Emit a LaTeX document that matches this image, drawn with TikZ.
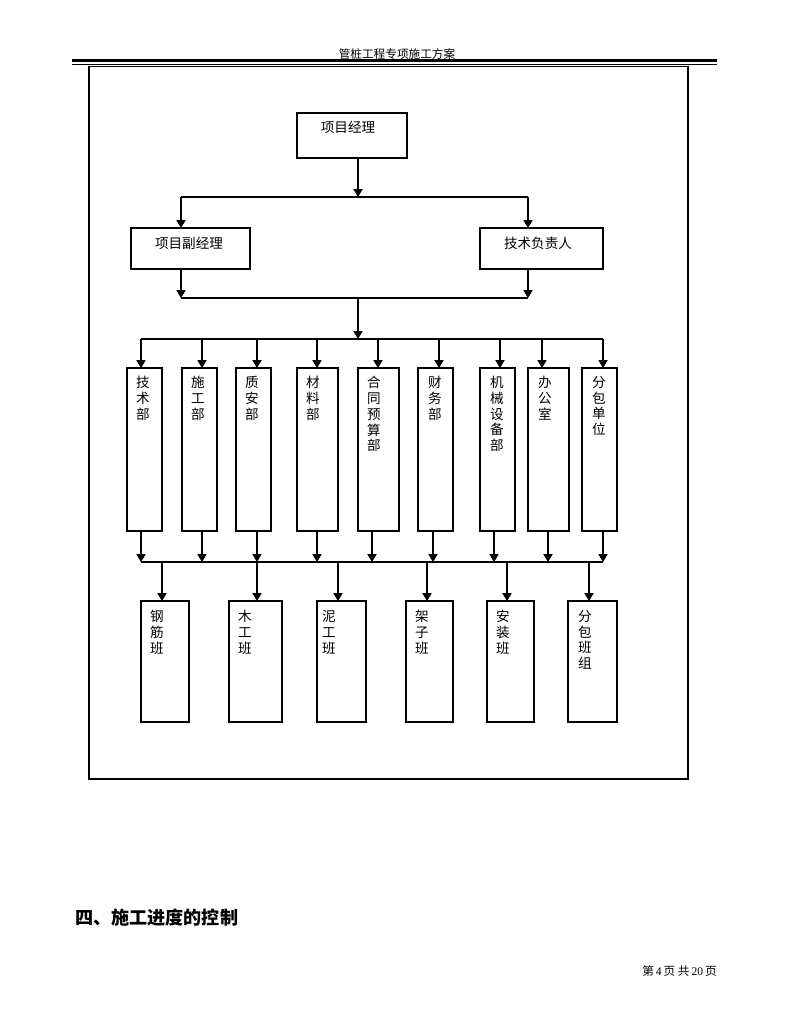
\documentclass[tikz,border=0pt]{standalone}
\usepackage{fontspec}
\newfontfamily\cjk{Noto Sans CJK SC}
\newfontfamily\tms{Liberation Serif}
\usetikzlibrary{arrows.meta}
\newcommand\mkbox[5]{\node[boxst, minimum width={(#4-#2)*0.7734pt}, minimum height={(#5-#3)*0.7734pt}] (#1) at ({(#2+#4)/2},{(#3+#5)/2}) {};}
\begin{document}
\begin{tikzpicture}[x=0.7734pt,y=-0.7734pt,
  boxst/.style={draw, line width=0.8pt, inner sep=0pt, outer sep=0pt},
  lbl/.style={font=\cjk\fontsize{10.5}{12.2}\selectfont, inner sep=0pt, align=center},
  vlbl/.style={lbl, anchor=north},
  conn/.style={line width=0.8pt},
  arr/.style={conn, -{Triangle[length=6pt,width=7pt]}},
]
\useasboundingbox (0,0) rectangle (791,1024);
% header
\node[font=\cjk\fontsize{9}{9}\selectfont, inner sep=0pt] (hdr) at (397,54) {管桩工程专项施工方案};
\draw[line width=1.8pt] (72,60.5) -- (717,60.5);
\draw[line width=1.2pt] (72,64.5) -- (717,64.5);
% frame
\draw[line width=1.5pt] (89,66.5) rectangle (688,779);
% top level
\mkbox{pm}{297}{113}{407}{158}
\node[lbl] (pmt) at (348,127) {项目经理};
\mkbox{dpm}{131}{228}{250}{269}
\node[lbl] (dpmt) at (189,243) {项目副经理};
\mkbox{tech}{480}{228}{603}{269}
\node[lbl] (techt) at (538,243) {技术负责人};
\coordinate (pmo) at (358,158);
\coordinate (b1m) at (358,197);
\coordinate (b1l) at (181,197);
\coordinate (b1r) at (528,197);
\draw[conn] (b1l) -- (b1r);
\draw[arr] (pmo) -- (b1m);
\draw[arr] (b1l) -- (b1l |- dpm.north);
\draw[arr] (b1r) -- (b1r |- tech.north);
\coordinate (b2l) at (181,298);
\coordinate (b2r) at (528,298);
\coordinate (b2m) at (358,298);
\draw[conn] (b2l) -- (b2r);
\draw[arr] (b2l |- dpm.south) -- (b2l);
\draw[arr] (b2r |- tech.south) -- (b2r);
\coordinate (b3m) at (358,339);
\draw[arr] (b2m) -- (b3m);
% departments
\coordinate (b3l) at (141,339);
\coordinate (b3r) at (603,339);
\draw[conn] (b3l) -- (b3r);
\coordinate (b4l) at (141,562);
\coordinate (b4r) at (603,562);
\draw[conn] (b4l) -- (b4r);
\foreach \n/\xa/\xb/\ta/\tb/\tx/\txt in {
  d1/127/162/141/141/143/{技\\术\\部},
  d2/182/217/202/202/198/{施\\工\\部},
  d3/236/271/257/257/252/{质\\安\\部},
  d4/297/338/317/317/313/{材\\料\\部},
  d5/358/399/378/372/374/{合\\同\\预\\算\\部},
  d6/418/453/439/433/435/{财\\务\\部},
  d7/480/515/500/494/497/{机\\械\\设\\备\\部},
  d8/528/569/542/548/545/{办\\公\\室},
  d9/582/617/603/603/599/{分\\包\\单\\位}}{
  \mkbox{\n}{\xa}{368}{\xb}{531}
  \node[vlbl] (\n t) at (\tx,376) {\txt};
  \coordinate (\n i) at (\ta,339);
  \coordinate (\n o) at (\tb,562);
  \draw[arr] (\n i) -- (\n i |- \n.north);
  \draw[arr] (\n o |- \n.south) -- (\n o);
}
% teams
\foreach \n/\xa/\xb/\ta/\tx/\txt in {
  g1/141/189/162/157/{钢\\筋\\班},
  g2/229/282/257/245/{木\\工\\班},
  g3/317/366/338/329/{泥\\工\\班},
  g4/406/453/427/422/{架\\子\\班},
  g5/487/534/507/503/{安\\装\\班},
  g6/568/617/589/585/{分\\包\\班\\组}}{
  \mkbox{\n}{\xa}{601}{\xb}{722}
  \node[vlbl] (\n t) at (\tx,610) {\txt};
  \coordinate (\n i) at (\ta,562);
  \draw[arr] (\n i) -- (\n i |- \n.north);
}
% heading and footer
\node[font=\cjk\bfseries\fontsize{14}{14}\selectfont, inner sep=0pt, anchor=west] (hd) at (75,918) {四、施工进度的控制};
\node[font=\cjk\fontsize{9}{9}\selectfont, inner sep=0pt, anchor=east] (ft) at (717,971) {第\,{\tms 4}\,页 共\,{\tms 20}\,页};
\end{tikzpicture}
\end{document}
